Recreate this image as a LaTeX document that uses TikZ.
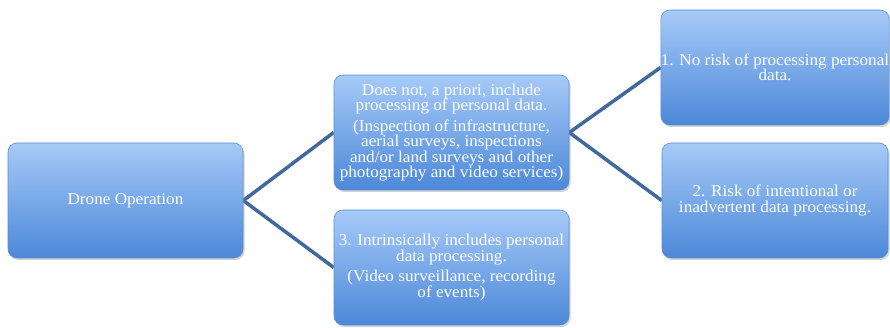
\documentclass[tikz,border=0pt]{standalone}
\usepackage{fontspec}
\setmainfont{Liberation Serif}[FakeStretch=1.04]
\usepackage{tikz}
\usetikzlibrary{shadows, backgrounds}
\usepackage{xcolor}
\definecolor{boxTop}{HTML}{A6CAF8}
\definecolor{boxMid}{HTML}{80B0EE}
\definecolor{boxBot}{HTML}{4C88D8}
\definecolor{boxLine}{HTML}{5B8FD2}
\definecolor{edgeCol}{HTML}{41699C}

\begin{document}
\begin{tikzpicture}[
    x=1pt, y=-1pt,
    box/.style={rectangle, rounded corners=9pt, draw=boxLine, line width=0.6pt, top color=boxTop, middle color=boxMid, bottom color=boxBot, text=white, font=\fontsize{16.5}{15.5}\selectfont, align=center, minimum width=235pt, minimum height=115pt, inner sep=2pt, drop shadow={opacity=0.35, shadow xshift=1.5pt, shadow yshift=-2pt}},
    rbox/.style={box, minimum width=226pt, inner xsep=0pt},
    edge/.style={line width=3.5pt, draw=edgeCol}
]
\useasboundingbox (0,0) rectangle (890,328);

% =====================================================================
% ROOT
% =====================================================================
\node[box] (drone) at (125.5, 200.5) {Drone Operation};

% =====================================================================
% SECOND LEVEL
% =====================================================================
\node[box] (nopd) at (451.5, 132.5) {Does not, a priori, include\\processing of personal data.\\[5pt](Inspection of infrastructure,\\aerial surveys, inspections\\and/or land surveys and other\\photography and video services)};
\node[box] (inpd) at (451.5, 267.5) {3. Intrinsically includes personal\\data processing.\\[5pt](Video surveillance, recording\\of events)};

% =====================================================================
% THIRD LEVEL
% =====================================================================
\node[rbox] (norisk) at (775, 67.5) {1. No risk of processing personal\\data.};
\node[rbox] (risk) at (775, 200.5) {2. Risk of intentional or\\inadvertent data processing.};

% =====================================================================
% EDGES
% =====================================================================
\begin{scope}[on background layer]
    \foreach \t in {nopd, inpd}
        \draw[edge] (drone.east) -- (\t.west);
    \foreach \t in {norisk, risk}
        \draw[edge] (nopd.east) -- (\t.west);
\end{scope}

\end{tikzpicture}
\end{document}
